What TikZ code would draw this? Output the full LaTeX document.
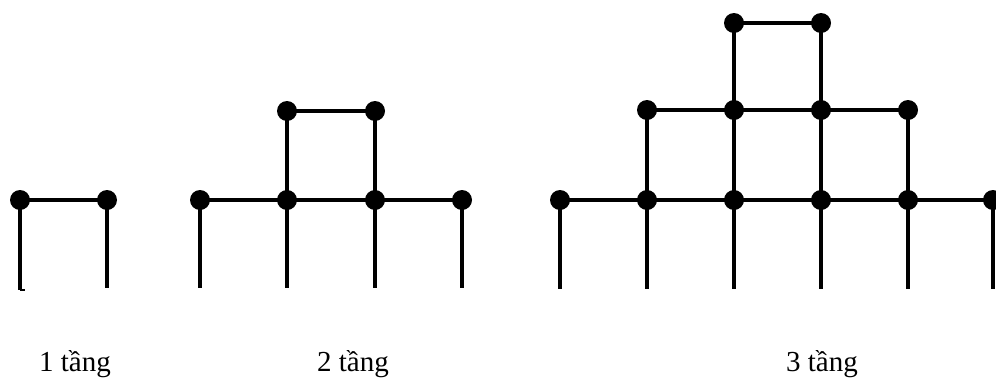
\documentclass[tikz,border=0pt]{standalone}
\usepackage{fontspec}
\setmainfont{Liberation Serif}
\begin{document}
\begin{tikzpicture}[x=1pt,y=-1pt,
  dot/.style={circle,fill=black,inner sep=0pt,minimum size=20pt},
  wire/.style={line width=3.2pt},
  lbl/.style={anchor=base,font=\fontsize{29}{32}\selectfont}]
\useasboundingbox (0,0) rectangle (996,378);
\clip (0,0) rectangle (996,378);
% ---------- 1 tang
\coordinate (a1b) at (20,290);
\coordinate (a2b) at (107,288);
\draw[wire] (20,200) -- (a1b);
\draw[wire] (107,200) -- (a2b);
\draw[wire] (20,200) -- (107,200);
\draw[line width=2pt] (20,290) -- (25,290);
\node[dot] (a1) at (20,200) {};
\node[dot] (a2) at (107,200) {};
% ---------- 2 tang
\foreach \n/\x in {1/200,2/287,3/375,4/462}{
  \coordinate (b\n b) at (\x,288);
  \draw[wire] (\x,200) -- (b\n b);
}
\draw[wire] (287,111) -- (287,200);
\draw[wire] (375,111) -- (375,200);
\draw[wire] (200,200) -- (462,200);
\draw[wire] (287,111) -- (375,111);
\foreach \n/\x in {1/200,2/287,3/375,4/462}{
  \node[dot] (b\n) at (\x,200) {};
}
\node[dot] (t1) at (287,111) {};
\node[dot] (t2) at (375,111) {};
% ---------- 3 tang
\foreach \n/\x in {1/560,2/647,3/734,4/821,5/908,6/993}{
  \coordinate (c\n b) at (\x,289);
  \draw[wire] (\x,200) -- (c\n b);
}
\draw[wire] (647,110) -- (647,200);
\draw[wire] (734,23) -- (734,200);
\draw[wire] (821,23) -- (821,200);
\draw[wire] (908,110) -- (908,200);
\draw[wire] (560,200) -- (993,200);
\draw[wire] (647,110) -- (908,110);
\draw[wire] (734,23) -- (821,23);
\foreach \n/\x in {1/560,2/647,3/734,4/821,5/908,6/993}{
  \node[dot] (c\n) at (\x,200) {};
}
\foreach \n/\x in {1/647,2/734,3/821,4/908}{
  \node[dot] (m\n) at (\x,110) {};
}
\node[dot] (u1) at (734,23) {};
\node[dot] (u2) at (821,23) {};
% ---------- labels
\node[lbl] (l1) at (75,371) {1 tầng};
\node[lbl] (l2) at (353,371) {2 tầng};
\node[lbl] (l3) at (822,371) {3 tầng};
\end{tikzpicture}
\end{document}
